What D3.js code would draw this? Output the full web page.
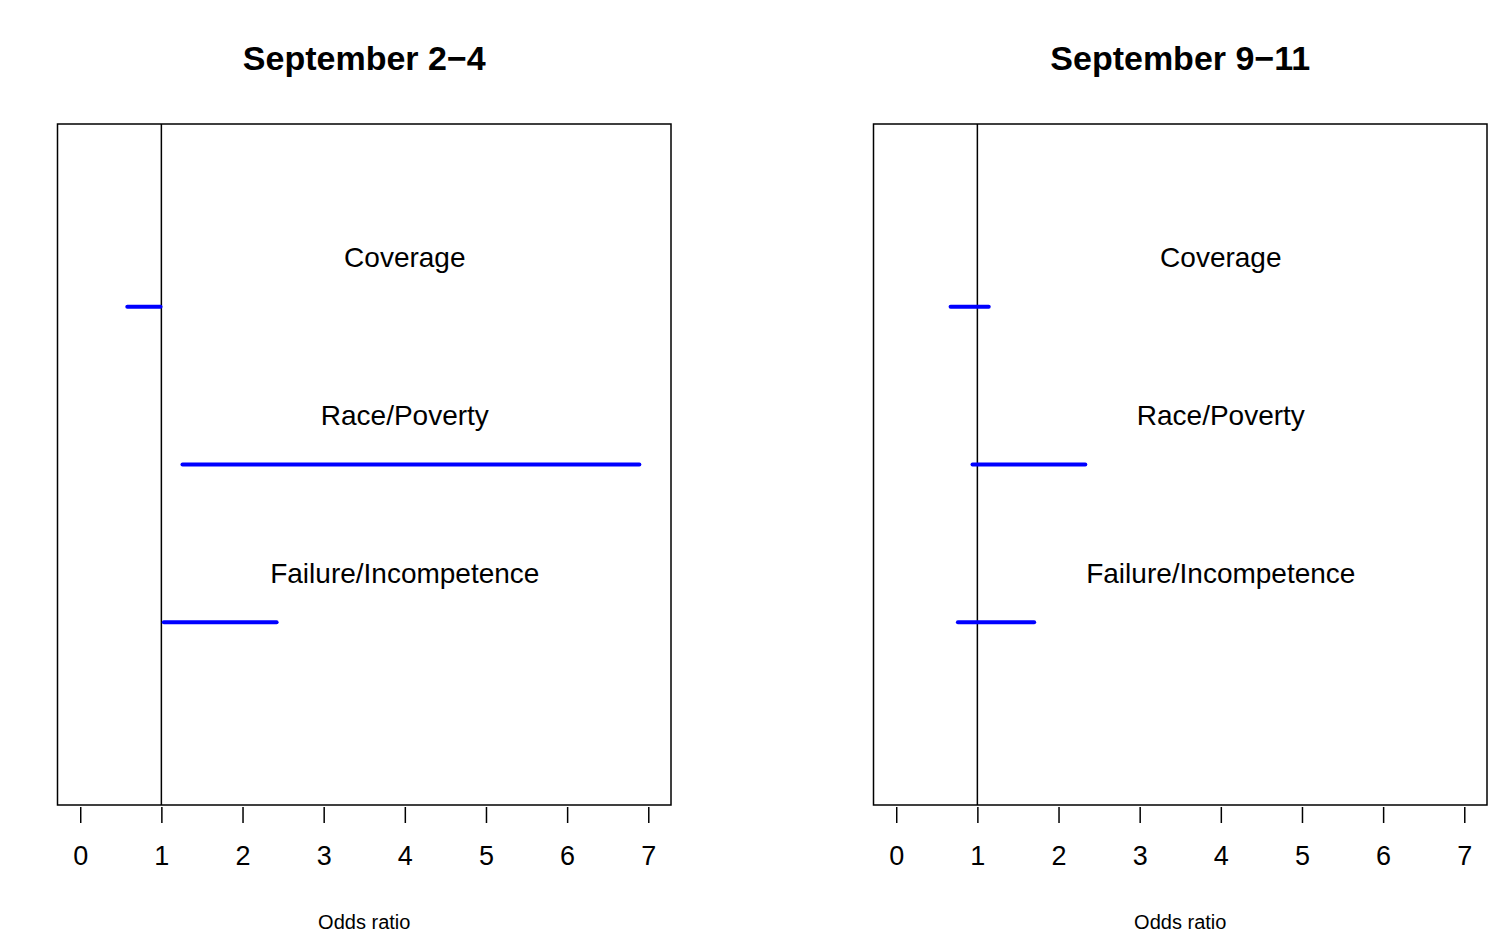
<!DOCTYPE html>
<html>
<head>
<meta charset="utf-8">
<script src="https://cdn.jsdelivr.net/npm/d3@7"></script>
<style>
  body { margin: 0; background: #fff; }
  svg { font-family: "Liberation Sans", Arial, Helvetica, sans-serif; }
</style>
</head>
<body>
<svg id="chart" width="1495" height="930"></svg>
<script>
// panel titles
var panels = ["September 2\u22124", "September 9\u221211"];
// factors, top to bottom, and their row on the y axis
var factors = ["Coverage", "Race/Poverty", "Failure/Incompetence"];
var rows = [3, 2, 1];
// confidence intervals of the odds ratio, one array per panel
var lower = [
  [0.58, 1.26, 1.03],
  [0.67, 0.94, 0.76]
];
var upper = [
  [0.99, 6.89, 2.42],
  [1.14, 2.33, 1.70]
];
var xTicks = [0, 1, 2, 3, 4, 5, 6, 7];
var xlim = [0, 7], ylim = [0, 4];
var refLine = 1;     // odds ratio of 1
var labelX = 4;      // labels centred over x = 4

var svg = d3.select("#chart");
var boxTop = 124, boxBottom = 805, boxW = 613.5;
var boxLefts = [57.5, 873.5];

// R style 4% axis extension
function ext(lim){ var d = (lim[1]-lim[0])*0.04; return [lim[0]-d, lim[1]+d]; }

panels.forEach(function(title, p){
  var left = boxLefts[p];
  var x = d3.scaleLinear().domain(ext(xlim)).range([left, left+boxW]);
  var y = d3.scaleLinear().domain(ext(ylim)).range([boxBottom, boxTop]);
  var g = svg.append("g");

  // reference line
  g.append("line")
    .attr("x1", x(refLine)).attr("x2", x(refLine))
    .attr("y1", boxTop).attr("y2", boxBottom)
    .attr("stroke", "#000").attr("stroke-width", 1.5);

  // intervals
  factors.forEach(function(f, i){
    g.append("line")
      .attr("x1", x(lower[p][i])).attr("x2", x(upper[p][i]))
      .attr("y1", y(rows[i])).attr("y2", y(rows[i]))
      .attr("stroke", "#0000ff").attr("stroke-width", 4)
      .attr("stroke-linecap", "round");
    g.append("text")
      .attr("x", x(labelX)).attr("y", y(rows[i]) - 49)
      .attr("text-anchor", "middle")
      .attr("dominant-baseline", "central")
      .attr("font-size", 28)
      .text(f);
  });

  // box
  g.append("rect")
    .attr("x", left).attr("y", boxTop)
    .attr("width", boxW).attr("height", boxBottom-boxTop)
    .attr("fill", "none").attr("stroke", "#000").attr("stroke-width", 1.5);

  // x axis, R style: ticks only, no domain line
  var axis = g.append("g")
    .attr("transform", "translate(0," + (boxBottom+2) + ")")
    .call(d3.axisBottom(x).tickValues(xTicks).tickSize(16).tickPadding(23).tickFormat(d3.format("d")));
  axis.select(".domain").remove();
  axis.selectAll(".tick line").attr("stroke-width", 1.5);
  axis.selectAll("text").attr("font-size", 27).attr("font-family", "Liberation Sans, Arial, sans-serif");

  // x label
  g.append("text")
    .attr("x", left + boxW/2).attr("y", 922)
    .attr("text-anchor", "middle").attr("dominant-baseline", "central")
    .attr("font-size", 20)
    .text("Odds ratio");

  // title
  g.append("text")
    .attr("x", left + boxW/2).attr("y", 58)
    .attr("text-anchor", "middle").attr("dominant-baseline", "central")
    .attr("font-size", 34).attr("font-weight", "bold")
    .text(title);
});
</script>
</body>
</html>
